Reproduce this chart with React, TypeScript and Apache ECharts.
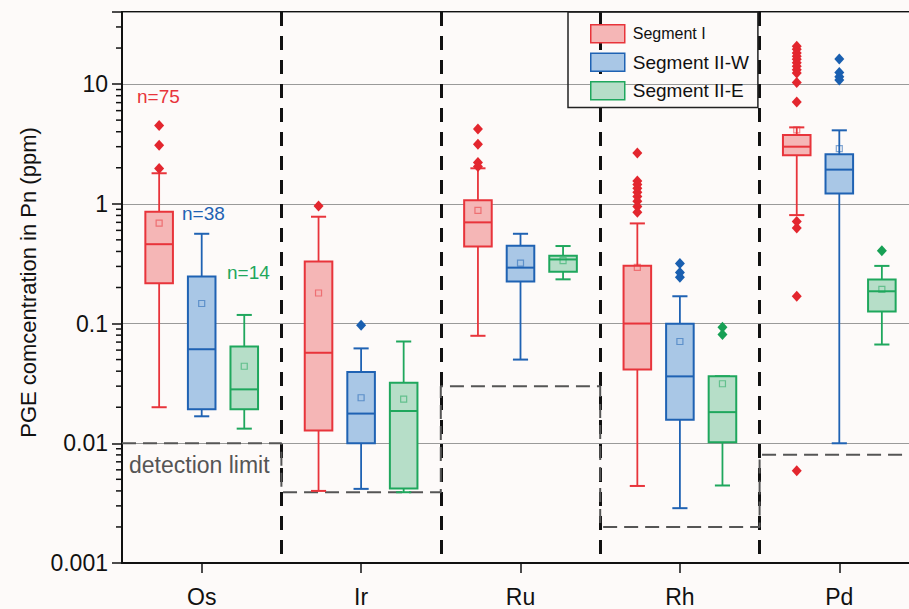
import React, { useEffect, useRef } from 'react';
import * as echarts from 'echarts';

const FONT = '"Liberation Sans", Arial, sans-serif';

const categories = ['Os', 'Ir', 'Ru', 'Rh', 'Pd'];
const segmentNames = ['Segment I', 'Segment II-W', 'Segment II-E'];
const yTickLabels = ['0.001', '0.01', '0.1', '1', '10'];
const minorTickValues = [
  0.002, 0.003, 0.004, 0.005, 0.006, 0.007, 0.008, 0.009,
  0.02, 0.03, 0.04, 0.05, 0.06, 0.07, 0.08, 0.09,
  0.2, 0.3, 0.4, 0.5, 0.6, 0.7, 0.8, 0.9,
  2, 3, 4, 5, 6, 7, 8, 9,
  20, 30,
];

// Box values per category: [whisker low, Q1, median, Q3, whisker high]
const segIBoxes = [
  [0.020, 0.217, 0.46, 0.857, 1.80],
  [0.0040, 0.0128, 0.057, 0.33, 0.78],
  [0.079, 0.44, 0.70, 1.07, 1.98],
  [0.0044, 0.0414, 0.10, 0.304, 0.686],
  [0.805, 2.55, 3.0, 3.76, 4.35],
];
const segIMeans = [0.69, 0.18, 0.88, 0.295, 4.14];
const segIOutliers = [
  [4.5, 3.08, 1.97],
  [0.96],
  [4.22, 3.14, 2.21, 2.05],
  [2.66, 1.55, 1.45, 1.35, 1.25, 1.15, 1.05, 0.95, 0.85],
  [20.7, 19.5, 18.2, 17.1, 16.1, 15.1, 14.1, 13.2, 12.4, 10.3, 7.08, 0.713, 0.627, 0.169, 0.0059],
];

const segIIWBoxes = [
  [0.0168, 0.0192, 0.061, 0.247, 0.562],
  [0.00416, 0.010, 0.0177, 0.0393, 0.062],
  [0.050, 0.225, 0.293, 0.447, 0.562],
  [0.00287, 0.0157, 0.0362, 0.0994, 0.169],
  [0.010, 1.22, 1.93, 2.59, 4.11],
];
const segIIWMeans = [0.147, 0.024, 0.32, 0.0708, 2.89];
const segIIWOutliers = [
  [],
  [0.097],
  [],
  [0.318, 0.267, 0.243],
  [16.2, 12.5, 11.5, 10.8],
];

const segIIEBoxes = [
  [0.01325, 0.0192, 0.0282, 0.0643, 0.118],
  [0.0039, 0.0042, 0.0186, 0.032, 0.0708],
  [0.234, 0.271, 0.343, 0.369, 0.444],
  [0.00444, 0.0102, 0.0182, 0.0363, 0.0363],
  [0.0668, 0.126, 0.186, 0.233, 0.303],
];
const segIIEMeans = [0.044, 0.0234, 0.335, 0.0314, 0.193];
const segIIEOutliers = [
  [],
  [],
  [],
  [0.093, 0.081],
  [0.406],
];

const detectionLimits = [0.01, 0.0039, 0.03, 0.002, 0.008];
const sampleCounts = ['n=75', 'n=38', 'n=14'];

const strokes = ['#e8343b', '#1f62b3', '#1fa75d'];
const fills = ['#f5b6b6', '#a9c7e6', '#b6dec8'];
const dots = ['#e3262e', '#1a5fb0', '#17a055'];
const meanStrokes = ['rgba(232,52,59,0.55)', 'rgba(31,98,179,0.55)', 'rgba(31,167,93,0.55)'];
const offsets = [-0.267, 0, 0.267];

function boxRenderer(idx: number) {
  return (params: any, api: any) => {
    const cat = api.value(0);
    const bw = api.size([1, 0], [cat, 1])[0];
    const cx = api.coord([cat, 1])[0] + offsets[idx] * bw;
    const yOf = (v: number) => api.coord([cat, v])[1];
    const yLow = yOf(api.value(1));
    const yQ1 = yOf(api.value(2));
    const yMed = yOf(api.value(3));
    const yQ3 = yOf(api.value(4));
    const yHigh = yOf(api.value(5));
    const yMean = yOf(api.value(6));
    const boxW = bw * 0.173;
    const capW = bw * 0.095;
    const stroke = strokes[idx];
    const ls = { stroke, lineWidth: 1.8 };
    return {
      type: 'group',
      children: [
        { type: 'line', shape: { x1: cx, y1: yQ3, x2: cx, y2: yHigh }, style: ls },
        { type: 'line', shape: { x1: cx, y1: yQ1, x2: cx, y2: yLow }, style: ls },
        { type: 'line', shape: { x1: cx - capW / 2, y1: yHigh, x2: cx + capW / 2, y2: yHigh }, style: { stroke, lineWidth: 2 } },
        { type: 'line', shape: { x1: cx - capW / 2, y1: yLow, x2: cx + capW / 2, y2: yLow }, style: { stroke, lineWidth: 2 } },
        {
          type: 'rect',
          shape: { x: cx - boxW / 2, y: yQ3, width: boxW, height: yQ1 - yQ3 },
          style: { fill: fills[idx], stroke, lineWidth: 2 },
        },
        { type: 'line', shape: { x1: cx - boxW / 2, y1: yMed, x2: cx + boxW / 2, y2: yMed }, style: { stroke, lineWidth: 2 } },
        {
          type: 'rect',
          shape: { x: cx - 3, y: yMean - 3, width: 6, height: 6 },
          style: { fill: 'none', stroke: meanStrokes[idx], lineWidth: 1.2 },
        },
      ],
    };
  };
}

function outlierRenderer(idx: number) {
  return (params: any, api: any) => {
    const cat = api.value(0);
    const bw = api.size([1, 0], [cat, 1])[0];
    const pt = api.coord([cat, api.value(1)]);
    const cx = pt[0] + offsets[idx] * bw;
    const cy = pt[1];
    return {
      type: 'polygon',
      shape: { points: [[cx, cy - 5.5], [cx + 5, cy], [cx, cy + 5.5], [cx - 5, cy]] },
      style: { fill: dots[idx] },
    };
  };
}

const allBoxes = [segIBoxes, segIIWBoxes, segIIEBoxes];
const allMeans = [segIMeans, segIIWMeans, segIIEMeans];
const allOutliers = [segIOutliers, segIIWOutliers, segIIEOutliers];

function buildOption(): any {
  const series: any[] = [];
  allBoxes.forEach((boxes, s) => {
    series.push({
      type: 'custom',
      name: segmentNames[s],
      renderItem: boxRenderer(s),
      itemStyle: { color: fills[s], borderColor: strokes[s] },
      encode: { x: 0, y: [1, 2, 3, 4, 5, 6] },
      data: boxes.map((b, i) => [i, ...b, allMeans[s][i]]),
      z: 3,
      silent: true,
    });
    series.push({
      type: 'custom',
      name: segmentNames[s] + ' outliers',
      renderItem: outlierRenderer(s),
      encode: { x: 0, y: 1 },
      data: allOutliers[s].flatMap((arr, i) => arr.map((v) => [i, v])),
      z: 4,
      silent: true,
    });
  });

  series.push({
    type: 'line',
    name: 'detection limit',
    xAxisIndex: 1,
    yAxisIndex: 0,
    step: 'end',
    symbol: 'none',
    silent: true,
    z: 2,
    lineStyle: { color: '#555', width: 2, type: [14, 7] },
    data: detectionLimits
      .map((v, i) => [i, v])
      .concat([[detectionLimits.length, detectionLimits[detectionLimits.length - 1]]]),
  });

  series.push({
    type: 'custom',
    name: 'minor ticks',
    silent: true,
    z: 5,
    encode: { x: 0, y: 1 },
    data: minorTickValues.map((v) => [0, v]),
    renderItem: (params: any, api: any) => {
      const bw = api.size([1, 0], [0, 1])[0];
      const pt = api.coord([0, api.value(1)]);
      const x0 = pt[0] - bw / 2;
      return {
        type: 'line',
        shape: { x1: x0 - 6, y1: pt[1], x2: x0, y2: pt[1] },
        style: { stroke: '#111', lineWidth: 1.5 },
      };
    },
  });

  const labelFor = (v: number) => {
    for (const l of yTickLabels) {
      if (Math.abs(Math.log10(v) - Math.log10(parseFloat(l))) < 1e-6) return l;
    }
    return '';
  };

  return {
    animation: false,
    backgroundColor: '#fdfaf9',
    grid: {
      left: 122,
      top: 12,
      right: -10,
      bottom: 46,
      show: true,
      borderColor: '#111',
      borderWidth: 2,
      backgroundColor: 'transparent',
      containLabel: false,
      outerBoundsMode: 'none',
    },
    legend: {
      data: segmentNames.map((n, i) => ({
        name: n,
        icon: 'rect',
        itemStyle: { color: fills[i], borderColor: strokes[i], borderWidth: 1.5 },
      })),
      orient: 'vertical',
      left: 568,
      top: 12,
      padding: [12, 9, 7, 22],
      itemWidth: 34,
      itemHeight: 18,
      itemGap: 9,
      borderColor: '#222',
      borderWidth: 1.5,
      selectedMode: false,
      formatter: (name: string) => (name === 'Segment I' ? `{s|${name}}` : `{l|${name}}`),
      textStyle: {
        padding: [0, 0, 0, 3],
        rich: {
          s: { fontSize: 16, fontFamily: FONT, color: '#111', lineHeight: 18 },
          l: { fontSize: 19, fontFamily: FONT, color: '#111', lineHeight: 18 },
        },
      },
    },
    xAxis: [
      {
        type: 'category',
        data: categories,
        boundaryGap: true,
        axisLine: { show: true, lineStyle: { color: '#111', width: 2 } },
        axisTick: { show: true, alignWithLabel: true, length: 10, lineStyle: { color: '#111', width: 1.5 } },
        axisLabel: { fontSize: 23, fontFamily: FONT, color: '#111', margin: 22 },
        splitLine: {
          show: true,
          showMinLine: false,
          showMaxLine: false,
          lineStyle: { color: '#111', width: 3, type: [14, 10] },
        },
      },
      { type: 'value', min: 0, max: categories.length, show: false },
    ],
    yAxis: [
      {
        type: 'log',
        logBase: 10,
        min: 0.001,
        max: 40,
        name: 'PGE comcentration in Pn (ppm)',
        nameLocation: 'middle',
        nameGap: 78,
        nameRotate: 90,
        nameTextStyle: { fontSize: 22, fontFamily: FONT, color: '#111', padding: [0, 0, 0, 10] },
        axisLine: { show: true, lineStyle: { color: '#111', width: 2 } },
        axisTick: { show: true, inside: false, length: 10, lineStyle: { color: '#111', width: 1.5 } },
        axisLabel: { fontSize: 23, fontFamily: FONT, color: '#111', margin: 14, formatter: labelFor },
        splitLine: { show: true, lineStyle: { color: '#9a9a9a', width: 1 } },
        minorTick: { show: false },
      },
    ],
    graphic: [
      { type: 'text', x: 137, y: 96, style: { text: sampleCounts[0], fill: strokes[0], fontSize: 19, fontFamily: FONT, verticalAlign: 'middle' } },
      { type: 'text', x: 182, y: 213, style: { text: sampleCounts[1], fill: strokes[1], fontSize: 19, fontFamily: FONT, verticalAlign: 'middle' } },
      { type: 'text', x: 227, y: 272, style: { text: sampleCounts[2], fill: strokes[2], fontSize: 19, fontFamily: FONT, verticalAlign: 'middle' } },
      { type: 'text', x: 129, y: 465, style: { text: 'detection limit', fill: '#555', fontSize: 23, fontFamily: FONT, verticalAlign: 'middle' } },
    ],
    series,
  };
}

export default function App() {
  const ref = useRef<HTMLDivElement>(null);
  useEffect(() => {
    if (!ref.current) return;
    const chart = echarts.init(ref.current, null, { renderer: 'svg' });
    chart.setOption(buildOption());
    return () => chart.dispose();
  }, []);
  return <div ref={ref} style={{ position: 'fixed', left: 0, top: 0, width: 909, height: 609 }} />;
}
